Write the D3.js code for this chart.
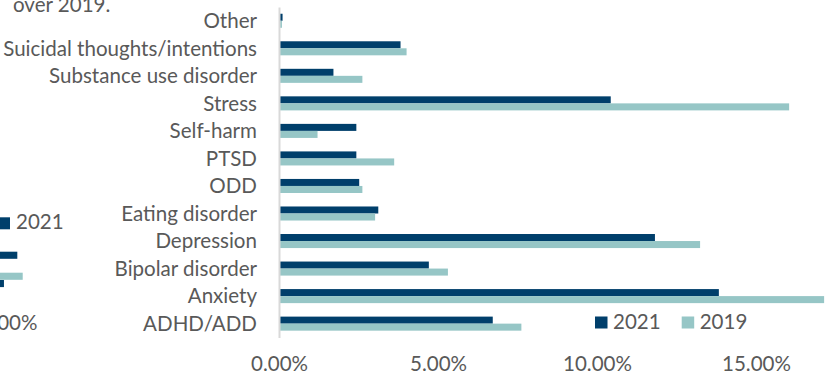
<!DOCTYPE html>
<html>
<head>
<meta charset="utf-8">
<script src="https://cdn.jsdelivr.net/npm/d3@7/dist/d3.min.js"></script>
<style>
  html, body { margin: 0; padding: 0; background: #fff; }
  svg { display: block; }
  text { font-family: "Lato", "Open Sans", sans-serif; fill: #595959; }
</style>
</head>
<body>
<div id="chart"></div>
<script>
// ---- Data ----
const categories = ["ADHD/ADD", "Anxiety", "Bipolar disorder", "Depression", "Eating disorder",
  "ODD", "PTSD", "Self-harm", "Stress", "Substance use disorder",
  "Suicidal thoughts/intentions", "Other"];
const values2021 = [6.70, 13.81, 4.69, 11.80, 3.10, 2.50, 2.41, 2.41, 10.41, 1.69, 3.80, 0.09];
const values2019 = [7.60, 17.12, 5.29, 13.22, 3.00, 2.60, 3.60, 1.19, 16.02, 2.60, 3.99, 0.07];
const seriesNames = ["2021", "2019"];
const seriesColors = ["#003f6b", "#96c6c6"];
const xTicks = [0, 5, 10, 15];

// cropped fragment of a neighbouring chart at the left edge
const fragTitle = "over 2019.";
const fragLegend = ["2021"];
const fragSeries = ["2021", "2019", "2021"];
const fragValues = [10.45, 10.62, 10.03];
const fragRows = ["a", "b", "c"];
const fragTick = [10];

// ---- Layout ----
const W = 835, H = 374;
const svg = d3.select("#chart").append("svg").attr("width", W).attr("height", H);

// font size calibrated to label width
const probe = svg.append("text").style("font-size", "22px").text("Suicidal thoughts/intentions");
const probeLen = probe.node().getComputedTextLength();
probe.remove();
const fs = 22 * 254 / probeLen;
svg.style("font-size", fs + "px");

const x = d3.scaleLinear().domain([0, 15]).range([279, 756]);
const y = d3.scaleBand().domain(categories.slice().reverse()).range([7, 337.4])
  .paddingInner(0.49).paddingOuter(0.245);
const ySub = d3.scaleBand().domain(seriesNames).range([0, y.bandwidth()]);
const color = d3.scaleOrdinal().domain(seriesNames).range(seriesColors);

const rows = categories.map((c, i) => ({ cat: c, vals: [
  { s: "2021", v: values2021[i] }, { s: "2019", v: values2019[i] }] }));

// bars
const g = svg.append("g");
g.selectAll("g.row").data(rows).join("g").attr("class", "row")
  .attr("transform", d => `translate(0,${y(d.cat)})`)
  .selectAll("rect").data(d => d.vals).join("rect")
  .attr("x", x(0) + 0.7)
  .attr("y", d => ySub(d.s))
  .attr("width", d => x(d.v) - x(0))
  .attr("height", ySub.bandwidth())
  .attr("fill", d => color(d.s));

// y axis
const yAxis = svg.append("g").attr("transform", `translate(${x(0)},0)`)
  .call(d3.axisLeft(y).tickSize(0).tickSizeOuter(0).tickPadding(22));
yAxis.select(".domain").attr("stroke", "#d9d9d9").attr("stroke-width", 2);
yAxis.selectAll("text").style("font-size", fs + "px").attr("fill", "#595959")
  .attr("font-family", null).attr("dy", "0.35em");

// x axis (labels only)
const xAxis = svg.append("g").attr("transform", "translate(0,370.5)")
  .call(d3.axisBottom(x).tickValues(xTicks).tickFormat(d => d.toFixed(2) + "%")
    .tickSize(0).tickPadding(0));
xAxis.select(".domain").remove();
xAxis.selectAll("text").attr("dy", "0").style("font-size", fs + "px").attr("fill", "#595959");

// legend
const legX = d3.scalePoint().domain(seriesNames).range([595, 681.7]);
const leg = svg.append("g").selectAll("g").data(seriesNames).join("g")
  .attr("transform", d => `translate(${legX(d)},316.5)`);
leg.append("rect").attr("width", 12.5).attr("height", 12)
  .attr("fill", d => color(d));
leg.append("text").attr("x", 18).attr("y", 12).text(d => d);

// ---- left-edge fragment of adjacent chart ----
svg.append("text").attr("x", 13).attr("y", 12).text(fragTitle);
const fx = d3.scaleLinear().domain([0, 10]).range([-315, 3]);
const fy = d3.scalePoint().domain(fragRows).range([251.7, 280]);
svg.append("g").selectAll("rect").data(fragValues).join("rect")
  .attr("x", fx(0))
  .attr("y", (d, i) => i === 0 ? fy("a") : (i === 1 ? fy("c") - 7.3 : fy("c")))
  .attr("width", d => fx(d) - fx(0))
  .attr("height", 7.1)
  .attr("fill", (d, i) => color(fragSeries[i]));
const fleg = svg.append("g").selectAll("g").data(fragLegend).join("g")
  .attr("transform", "translate(-2.5,217.3)");
fleg.append("rect").attr("width", 12.5).attr("height", 12).attr("fill", d => color(d));
fleg.append("text").attr("x", 18.5).attr("y", 12).text(d => d);
svg.append("g").selectAll("text").data(fragTick).join("text")
  .attr("x", d => fx(d)).attr("y", 330).attr("text-anchor", "middle")
  .text(d => d.toFixed(2) + "%");
</script>
</body>
</html>
